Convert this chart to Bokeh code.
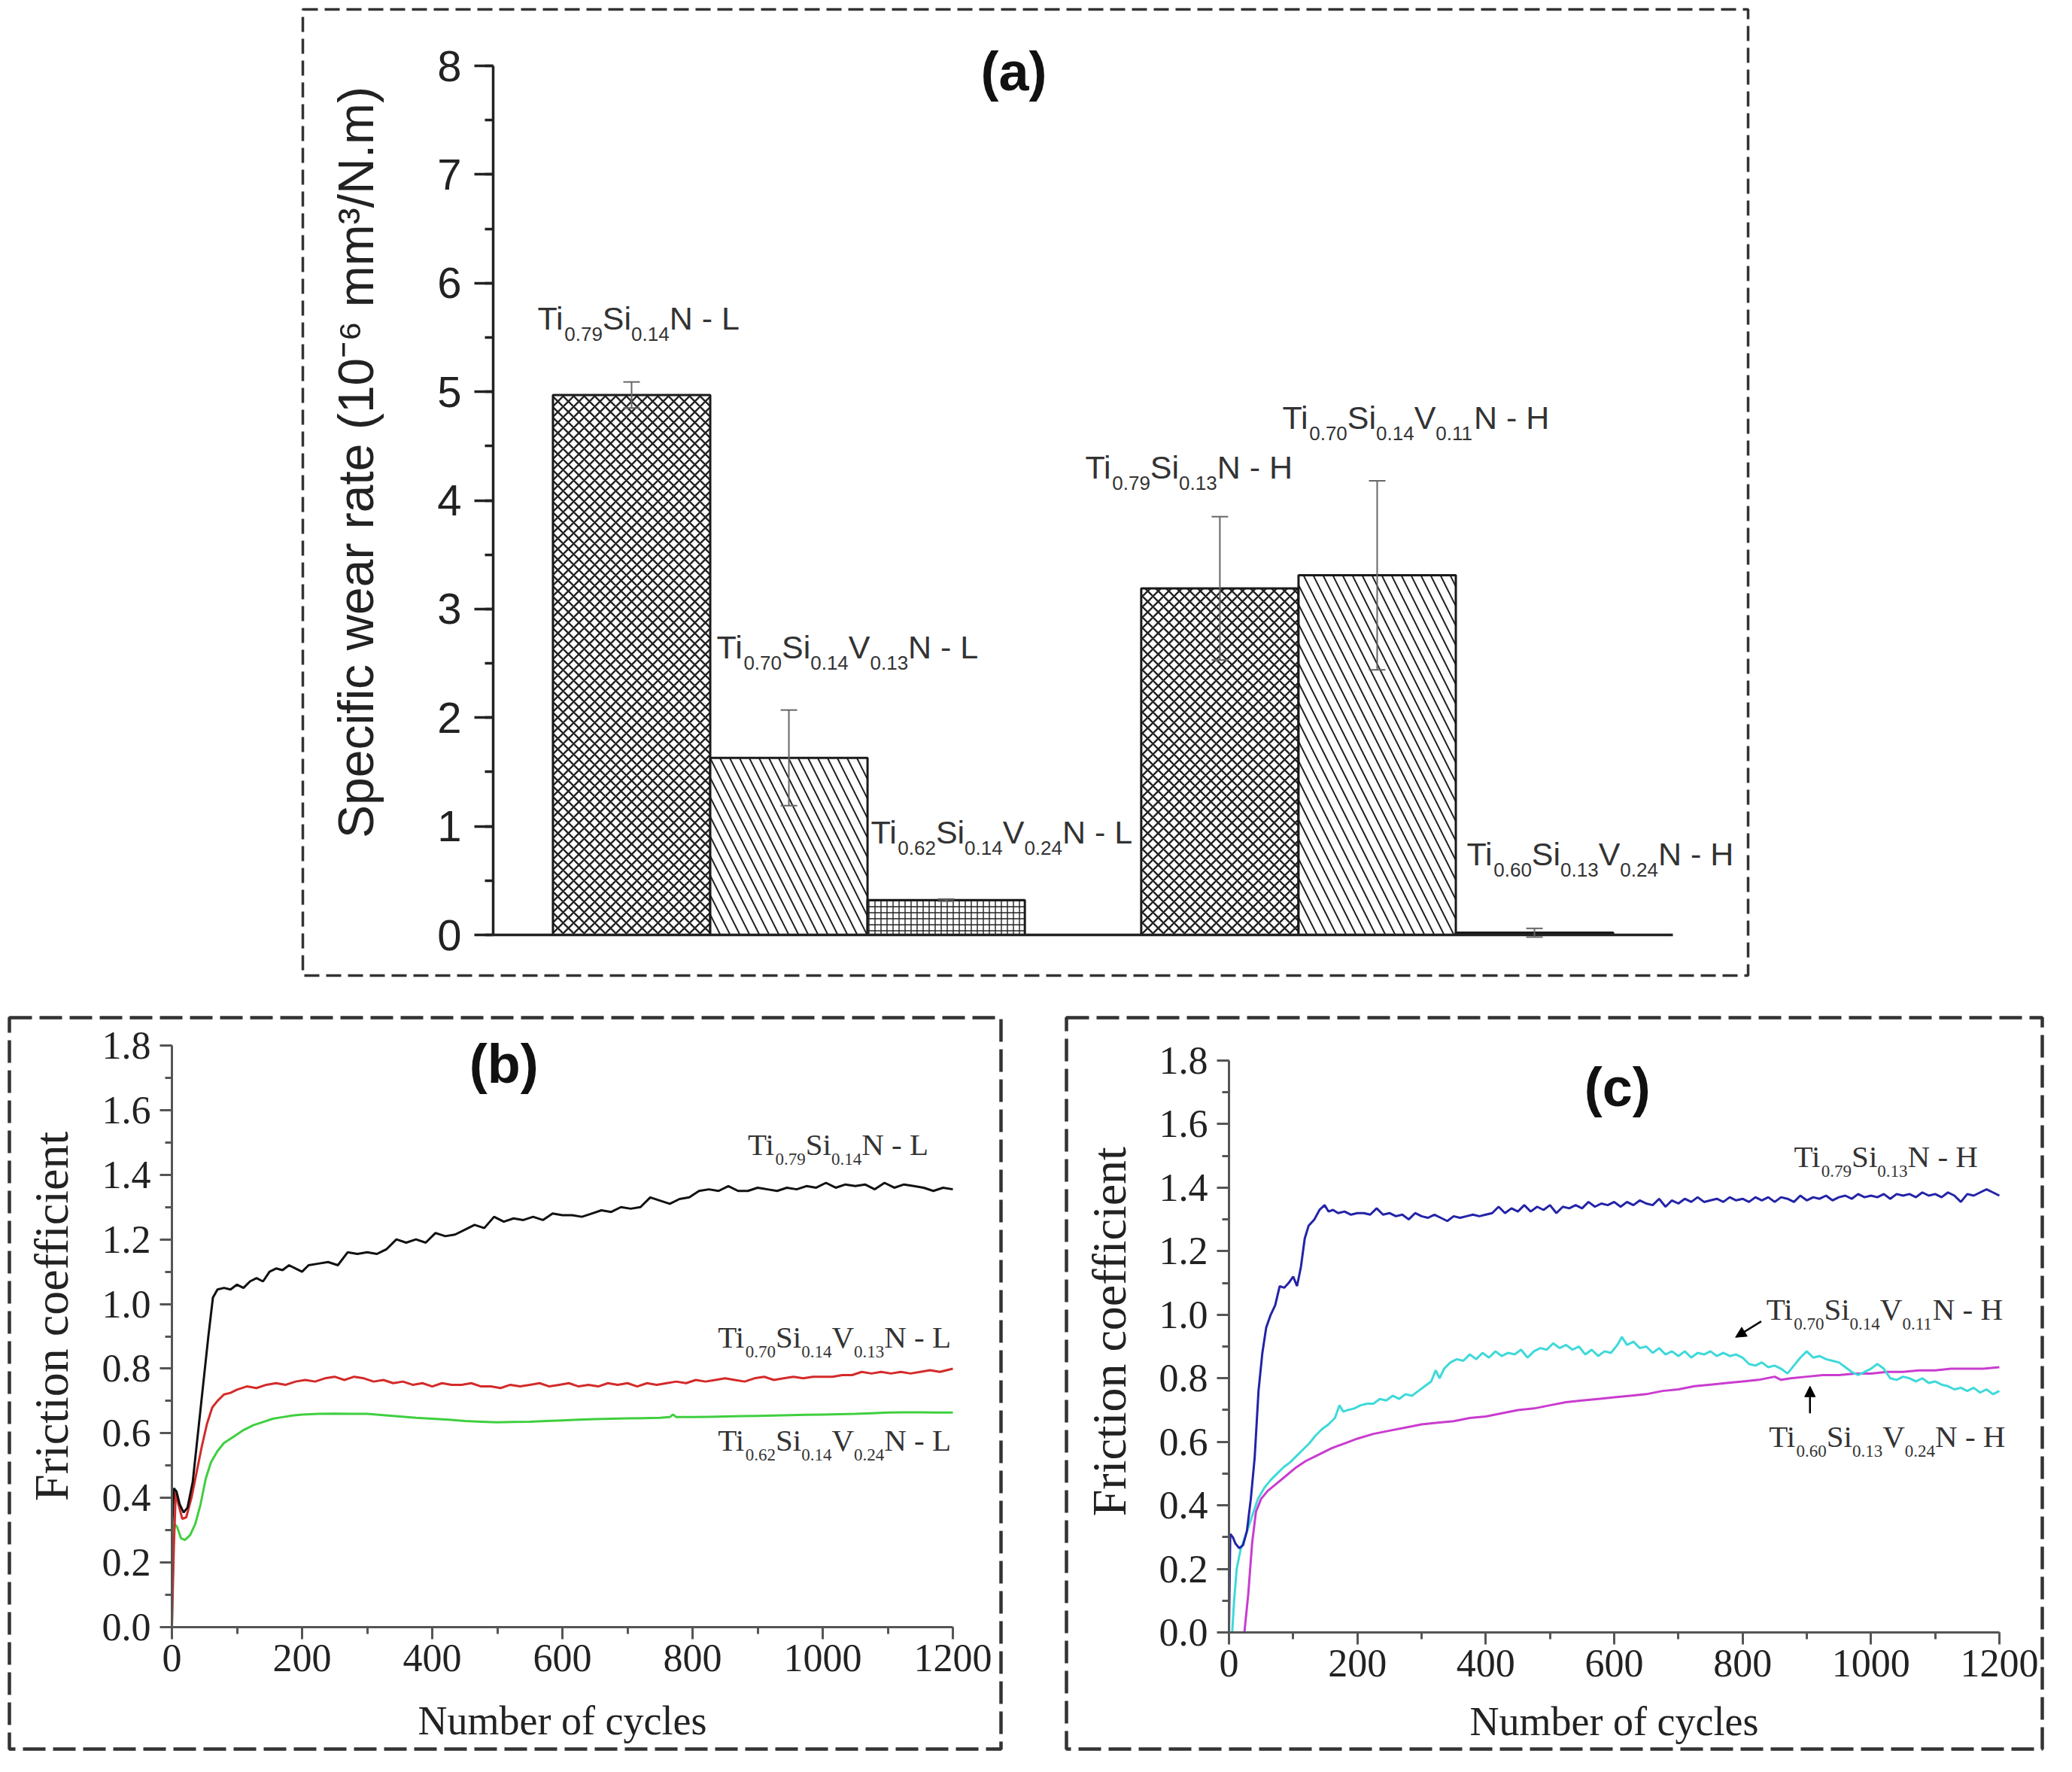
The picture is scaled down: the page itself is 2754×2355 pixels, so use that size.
import math
from bokeh.plotting import figure
from bokeh.models import (Range1d, ColumnDataSource, Whisker, TeeHead, LabelSet, Label, Spacer,
                          SingleIntervalTicker, FixedTicker, PrintfTickFormatter, Arrow, NormalHead)
from bokeh.layouts import column, row
from bokeh.core.properties import value
from bokeh.embed import file_html
from bokeh.resources import INLINE

# ---------------- DATA ----------------
# (a) specific wear rate (10^-6 mm^3/N.m); "|" separates normal text and subscripts
bar_names = ["Ti|0.79|Si|0.14|N - L", "Ti|0.70|Si|0.14|V|0.13|N - L", "Ti|0.62|Si|0.14|V|0.24|N - L",
             "Ti|0.79|Si|0.13|N - H", "Ti|0.70|Si|0.14|V|0.11|N - H", "Ti|0.60|Si|0.13|V|0.24|N - H"]
bar_group = [0, 0, 0, 1, 1, 1]
wear_rate = [4.97, 1.63, 0.32, 3.19, 3.31, 0.02]
wear_err = [0.12, 0.44, 0.01, 0.66, 0.87, 0.04]
bar_hatch = ["x", "\\", "+", "x", "\\", "+"]

# (b) friction coefficient, low load
b_black_x = [0, 3, 7, 12, 18, 24, 32, 40, 48, 56, 63, 70, 80, 90, 100, 110, 120, 130, 140, 150, 160, 170, 180, 190, 200,
             210, 225, 240, 255, 270, 285, 300, 315, 330, 345, 360, 375, 390, 405, 420, 435, 450, 465, 480, 495, 510,
             525, 540, 555, 570, 585, 600, 615, 630, 645, 660, 675, 690, 705, 720, 735, 750, 765, 780, 795, 810, 825,
             840, 855, 870, 885, 900, 915, 930, 945, 960, 975, 990, 1005, 1020, 1035, 1050, 1065, 1080, 1095, 1110,
             1125, 1140, 1155, 1170, 1185, 1200]
b_black_y = [0.30, 0.43, 0.42, 0.38, 0.355, 0.37, 0.45, 0.60, 0.75, 0.90, 1.02, 1.045, 1.05, 1.045, 1.06, 1.05, 1.07,
             1.08, 1.07, 1.10, 1.11, 1.105, 1.12, 1.11, 1.10, 1.12, 1.125, 1.13, 1.12, 1.16, 1.155, 1.16, 1.155, 1.17,
             1.20, 1.19, 1.20, 1.19, 1.22, 1.21, 1.215, 1.23, 1.245, 1.235, 1.27, 1.255, 1.265, 1.26, 1.27, 1.26, 1.28,
             1.275, 1.275, 1.27, 1.28, 1.29, 1.285, 1.30, 1.295, 1.30, 1.33, 1.32, 1.31, 1.325, 1.33, 1.35, 1.355,
             1.35, 1.365, 1.35, 1.35, 1.36, 1.355, 1.35, 1.36, 1.355, 1.365, 1.36, 1.375, 1.36, 1.37, 1.365, 1.37,
             1.355, 1.375, 1.36, 1.37, 1.365, 1.36, 1.35, 1.36, 1.355]
b_red_x = [0, 3, 6, 10, 16, 22, 30, 38, 46, 54, 62, 70, 80, 90, 100, 115, 130, 145, 160, 175, 190, 205, 220, 235, 250,
           265, 280, 295, 310, 325, 340, 355, 370, 385, 400, 415, 430, 445, 460, 475, 490, 505, 520, 535, 550, 565,
           580, 595, 610, 625, 640, 655, 670, 685, 700, 715, 730, 745, 760, 775, 790, 805, 820, 835, 850, 865, 880,
           895, 910, 925, 940, 955, 970, 985, 1000, 1015, 1030, 1045, 1060, 1075, 1090, 1105, 1120, 1135, 1150, 1165,
           1180, 1200]
b_red_y = [0.0, 0.25, 0.42, 0.38, 0.335, 0.34, 0.40, 0.48, 0.56, 0.63, 0.68, 0.70, 0.72, 0.725, 0.735, 0.745, 0.74,
           0.75, 0.755, 0.75, 0.76, 0.765, 0.76, 0.77, 0.775, 0.765, 0.775, 0.77, 0.76, 0.765, 0.755, 0.76, 0.75,
           0.755, 0.745, 0.755, 0.75, 0.75, 0.755, 0.745, 0.745, 0.74, 0.75, 0.745, 0.75, 0.755, 0.745, 0.75, 0.755,
           0.745, 0.75, 0.745, 0.755, 0.75, 0.755, 0.745, 0.755, 0.75, 0.755, 0.76, 0.755, 0.765, 0.76, 0.765, 0.77,
           0.765, 0.76, 0.77, 0.775, 0.765, 0.77, 0.775, 0.77, 0.775, 0.775, 0.775, 0.78, 0.78, 0.79, 0.785, 0.79,
           0.785, 0.79, 0.785, 0.79, 0.795, 0.79, 0.80]
b_green_x = [0, 2, 4, 8, 14, 20, 28, 36, 44, 52, 60, 70, 80, 95, 110, 125, 140, 155, 170, 185, 200, 225, 250, 275, 300,
             325, 350, 375, 400, 425, 450, 475, 500, 525, 550, 575, 600, 625, 650, 675, 700, 725, 750, 765, 770, 775,
             800, 825, 850, 875, 900, 925, 950, 975, 1000, 1025, 1050, 1075, 1100, 1125, 1150, 1175, 1200]
b_green_y = [0.0, 0.25, 0.32, 0.31, 0.275, 0.27, 0.285, 0.32, 0.38, 0.46, 0.51, 0.545, 0.57, 0.59, 0.61, 0.625, 0.635,
             0.645, 0.65, 0.655, 0.658, 0.66, 0.661, 0.66, 0.66, 0.656, 0.652, 0.648, 0.645, 0.642, 0.638, 0.636, 0.634,
             0.635, 0.636, 0.638, 0.64, 0.642, 0.644, 0.645, 0.646, 0.647, 0.648, 0.65, 0.658, 0.65, 0.65, 0.651,
             0.652, 0.653, 0.654, 0.655, 0.656, 0.657, 0.658, 0.659, 0.66, 0.662, 0.664, 0.665, 0.665, 0.664, 0.664]
b_names = ["Ti|0.79|Si|0.14|N - L", "Ti|0.70|Si|0.14|V|0.13|N - L", "Ti|0.62|Si|0.14|V|0.24|N - L"]

# (c) friction coefficient, high load
c_blue_x = [0, 2, 6, 10, 16, 22, 28, 34, 40, 46, 52, 58, 65, 72, 79, 86, 93, 100, 106, 112, 118, 124, 133, 141, 149,
            155, 162, 170, 180, 190, 200, 210, 220, 230, 240, 250, 260, 270, 280, 290, 300, 310, 320, 330, 340, 350,
            360, 370, 380, 390, 400, 410, 420, 430, 440, 450, 460, 470, 480, 490, 500, 510, 520, 530, 540, 550, 560,
            570, 580, 590, 600, 610, 620, 630, 640, 650, 660, 670, 680, 690, 700, 710, 720, 730, 740, 750, 760, 770,
            780, 790, 800, 810, 820, 830, 840, 850, 860, 870, 880, 890, 900, 910, 920, 930, 940, 950, 960, 970, 980,
            990, 1000, 1010, 1020, 1030, 1040, 1050, 1060, 1070, 1080, 1090, 1100, 1110, 1120, 1130, 1140, 1150,
            1160, 1170, 1180, 1190, 1200]
c_blue_y = [0.0, 0.31, 0.30, 0.28, 0.265, 0.275, 0.32, 0.42, 0.55, 0.76, 0.88, 0.96, 1.0, 1.03, 1.09, 1.085, 1.10,
            1.12, 1.09, 1.15, 1.24, 1.28, 1.30, 1.33, 1.345, 1.325, 1.33, 1.32, 1.325, 1.315, 1.32, 1.32, 1.315, 1.335,
            1.315, 1.32, 1.31, 1.315, 1.30, 1.32, 1.31, 1.305, 1.315, 1.305, 1.295, 1.31, 1.305, 1.31, 1.315, 1.31,
            1.315, 1.32, 1.34, 1.32, 1.335, 1.325, 1.345, 1.325, 1.34, 1.33, 1.345, 1.32, 1.34, 1.335, 1.345, 1.335,
            1.355, 1.34, 1.35, 1.345, 1.355, 1.34, 1.355, 1.345, 1.36, 1.35, 1.345, 1.365, 1.34, 1.36, 1.35, 1.365,
            1.355, 1.37, 1.355, 1.36, 1.365, 1.355, 1.37, 1.36, 1.365, 1.355, 1.37, 1.36, 1.37, 1.355, 1.37, 1.365,
            1.355, 1.375, 1.36, 1.37, 1.365, 1.375, 1.36, 1.37, 1.375, 1.365, 1.38, 1.37, 1.375, 1.37, 1.38, 1.365,
            1.38, 1.375, 1.38, 1.37, 1.385, 1.375, 1.38, 1.37, 1.385, 1.375, 1.355, 1.38, 1.375, 1.385, 1.395, 1.385,
            1.375]
c_cyan_x = [0, 5, 8, 12, 18, 25, 35, 45, 55, 65, 75, 85, 95, 105, 115, 125, 135, 145, 155, 165, 172, 178, 185, 195,
            205, 215, 225, 235, 245, 255, 265, 275, 285, 295, 305, 315, 322, 328, 335, 345, 355, 365, 375, 385, 395,
            405, 415, 425, 435, 445, 455, 465, 475, 485, 495, 505, 515, 525, 535, 545, 555, 565, 575, 585, 595, 605,
            612, 620, 630, 640, 650, 660, 670, 680, 690, 700, 710, 720, 730, 740, 750, 760, 770, 780, 790, 800, 810,
            820, 830, 840, 850, 860, 870, 880, 890, 900, 910, 920, 930, 940, 950, 960, 970, 980, 990, 1000, 1010,
            1020, 1030, 1040, 1050, 1060, 1070, 1080, 1090, 1100, 1110, 1120, 1130, 1140, 1150, 1160, 1170, 1180,
            1190, 1200]
c_cyan_y = [0.0, 0.0, 0.10, 0.20, 0.26, 0.30, 0.36, 0.42, 0.455, 0.48, 0.50, 0.52, 0.535, 0.555, 0.575, 0.595, 0.62,
            0.64, 0.655, 0.675, 0.715, 0.695, 0.70, 0.705, 0.715, 0.72, 0.72, 0.735, 0.73, 0.745, 0.735, 0.75, 0.745,
            0.76, 0.775, 0.79, 0.825, 0.80, 0.83, 0.85, 0.86, 0.855, 0.875, 0.86, 0.88, 0.865, 0.885, 0.87, 0.88,
            0.875, 0.89, 0.865, 0.885, 0.895, 0.89, 0.91, 0.895, 0.905, 0.89, 0.90, 0.875, 0.89, 0.87, 0.885, 0.88,
            0.905, 0.93, 0.905, 0.915, 0.895, 0.90, 0.88, 0.895, 0.875, 0.885, 0.87, 0.885, 0.865, 0.88, 0.875, 0.885,
            0.87, 0.88, 0.87, 0.875, 0.865, 0.845, 0.84, 0.85, 0.835, 0.84, 0.83, 0.815, 0.84, 0.865, 0.885, 0.865,
            0.87, 0.86, 0.855, 0.85, 0.835, 0.82, 0.81, 0.82, 0.83, 0.845, 0.83, 0.80, 0.795, 0.805, 0.80, 0.79, 0.80,
            0.785, 0.79, 0.78, 0.775, 0.765, 0.77, 0.76, 0.77, 0.755, 0.765, 0.75, 0.76]
c_mag_x = [24, 30, 36, 42, 50, 60, 75, 90, 105, 120, 140, 160, 180, 200, 225, 250, 275, 300, 325, 350, 375, 400, 425,
           450, 475, 500, 525, 550, 575, 600, 625, 650, 675, 700, 725, 750, 775, 800, 825, 850, 860, 875, 900, 925,
           950, 975, 1000, 1025, 1050, 1075, 1100, 1125, 1150, 1175, 1200]
c_mag_y = [0.0, 0.12, 0.28, 0.38, 0.42, 0.445, 0.47, 0.495, 0.52, 0.54, 0.56, 0.58, 0.595, 0.61, 0.625, 0.635, 0.645,
           0.655, 0.66, 0.665, 0.675, 0.68, 0.69, 0.70, 0.705, 0.715, 0.725, 0.73, 0.735, 0.74, 0.745, 0.75, 0.76,
           0.765, 0.775, 0.78, 0.785, 0.79, 0.795, 0.805, 0.795, 0.80, 0.805, 0.81, 0.81, 0.815, 0.815, 0.82, 0.82,
           0.825, 0.825, 0.83, 0.83, 0.83, 0.835]
c_names = ["Ti|0.79|Si|0.13|N - H", "Ti|0.70|Si|0.14|V|0.11|N - H", "Ti|0.60|Si|0.13|V|0.24|N - H"]

# ---------------- HELPERS ----------------
SANS_W = {'T': 0.611, 'i': 0.222, 'S': 0.667, 'N': 0.722, 'V': 0.667, ' ': 0.278, '-': 0.333,
          'L': 0.556, 'H': 0.722, '.': 0.278}
SERIF_W = {'T': 0.611, 'i': 0.278, 'S': 0.556, 'N': 0.722, 'V': 0.722, ' ': 0.25, '-': 0.333,
           'L': 0.611, 'H': 0.722, '.': 0.25}
M = 4  # canvas margin around the dashed frame


def twidth(s, table, size, digit):
    return sum(table.get(c, digit) for c in s) * size


def add_formulas(p, specs, positions, font, table, digit, size, sub_size, drop, color):
    main = dict(x=[], y=[], text=[], xo=[], yo=[])
    sub = dict(x=[], y=[], text=[], xo=[], yo=[])
    for spec, (x, y) in zip(specs, positions):
        off = 0.0
        for k, part in enumerate(spec.split("|")):
            is_sub = k % 2 == 1
            d = sub if is_sub else main
            sz = sub_size if is_sub else size
            d["x"].append(x); d["y"].append(y); d["text"].append(part)
            d["xo"].append(off); d["yo"].append(-drop if is_sub else 0)
            off += twidth(part, table, sz, digit)
    for d, sz in ((main, size), (sub, sub_size)):
        p.add_layout(LabelSet(source=ColumnDataSource(d), x="x", y="y", text="text",
                              x_offset="xo", y_offset="yo", text_font=value(font),
                              text_font_size=value(f"{sz}px"), text_color=color,
                              text_align="left", text_baseline="alphabetic"))


def panel_fig(box, origin, ppu, line_w, dash):
    """box = dashed panel frame (l, t, r, b) in page px; origin = page px of data (0, 0); ppu = px per unit."""
    l, t, r, b = box
    ox, oy = origin
    px, py = ppu
    p = figure(width=r - l + 2 * M, height=b - t + 2 * M,
               x_range=Range1d((l - ox) / px, (r - ox) / px),
               y_range=Range1d((oy - b) / py, (oy - t) / py),
               output_backend="svg", toolbar_location=None,
               min_border_left=M, min_border_right=M, min_border_top=M, min_border_bottom=M)
    p.title.visible = False
    p.xgrid.visible = False
    p.ygrid.visible = False
    p.background_fill_color = "white"
    p.border_fill_color = "white"
    p.outline_line_color = "#333333"
    p.outline_line_width = line_w
    p.outline_line_dash = dash
    return p


def style_axis(ax, color, width, tick_out, minor_out, font, size, standoff):
    ax.fixed_location = 0
    ax.axis_line_width = width
    ax.axis_line_color = color
    ax.major_tick_line_width = width
    ax.minor_tick_line_width = width
    ax.major_tick_line_color = color
    ax.minor_tick_line_color = color
    ax.major_tick_out = tick_out
    ax.major_tick_in = 0
    ax.minor_tick_out = minor_out
    ax.minor_tick_in = 0
    ax.major_label_text_font = font
    ax.major_label_text_font_size = size
    ax.major_label_text_color = "#222222"
    ax.major_label_standoff = standoff


# ---------------- PANEL (a) ----------------
pad, gap = 0.38, 0.74
bar_x = [pad + 0.5 + i + gap * g for i, g in enumerate(bar_group)]
x_axis_end = pad + len(bar_x) + gap + pad

pa = panel_fig((410, 20, 2331, 1304), (663, 1250), (209.07, 144.375), 3.5, "20 9")
src_a = ColumnDataSource(dict(x=bar_x, top=wear_rate, hatch=bar_hatch,
                              upper=[v + e for v, e in zip(wear_rate, wear_err)],
                              lower=[v - e for v, e in zip(wear_rate, wear_err)],
                              hscale=[14 if h == "x" else (26 if h == "\\" else 8) for h in bar_hatch],
                              hweight=[2.4 if h == "x" else (2.0 if h == "\\" else 1.4) for h in bar_hatch]))
pa.vbar(x="x", top="top", width=1.0, bottom=0, source=src_a, fill_color="white",
        line_color="#1a1a1a", line_width=3, hatch_pattern="hatch", hatch_scale="hscale",
        hatch_weight="hweight", hatch_color="#222222")
pa.add_layout(Whisker(source=src_a, base="x", upper="upper", lower="lower", line_color="#666666",
                      line_width=2, level="annotation",
                      upper_head=TeeHead(size=22, line_color="#666666", line_width=2),
                      lower_head=TeeHead(size=22, line_color="#666666", line_width=2)))

ya = pa.yaxis[0]
style_axis(ya, "#222222", 3.5, 25, 11, "Liberation Sans", "58px", 17)
ya.ticker = SingleIntervalTicker(interval=1, num_minor_ticks=2)
ya.bounds = (0, 8)
xa = pa.xaxis[0]
style_axis(xa, "#222222", 3.5, 0, 0, "Liberation Sans", "58px", 0)
xa.ticker = FixedTicker(ticks=[])
xa.bounds = (0, x_axis_end)

pa.add_layout(Label(x=-0.875, y=4.35, text="Specific wear rate (10\u207b\u2076 mm\u00b3/N.m)",
                    angle=math.pi / 2, text_font="Liberation Sans", text_font_size="66px",
                    text_color="#222222", text_align="center", text_baseline="alphabetic"))
pa.add_layout(Label(x=3.31, y=7.95, text="(a)", text_font="Liberation Sans", text_font_style="bold",
                    text_font_size="72px", text_color="#111111", text_align="center",
                    text_baseline="middle"))
a_label_pos = [(0.282, 5.569), (1.421, 2.542), (2.401, 0.845), (3.764, 4.204), (5.017, 4.655), (6.189, 0.644)]
add_formulas(pa, bar_names, a_label_pos, "Liberation Sans", SANS_W, 0.556, 43, 26, 15, "#333333")


# ---------------- PANELS (b), (c) ----------------
def curve_panel(box, origin, ppu, ylab_x, ylab_y, xlab_y, title, title_xy):
    p = panel_fig(box, origin, ppu, 4.5, "30 10")
    xax, yax = p.xaxis[0], p.yaxis[0]
    style_axis(xax, "#555555", 3, 16, 9, "Liberation Serif", "52px", 7)
    style_axis(yax, "#555555", 3, 16, 9, "Liberation Serif", "52px", 12)
    xax.ticker = SingleIntervalTicker(interval=200, num_minor_ticks=2)
    yax.ticker = SingleIntervalTicker(interval=0.2, num_minor_ticks=2)
    yax.formatter = PrintfTickFormatter(format="%.1f")
    xax.bounds = (0, 1200)
    yax.bounds = (0, 1.8)
    p.add_layout(Label(x=ylab_x, y=ylab_y, text="Friction coefficient", angle=math.pi / 2,
                       text_font="Liberation Serif", text_font_size="64px", text_color="#222222",
                       text_align="center", text_baseline="alphabetic"))
    p.add_layout(Label(x=600, y=xlab_y, text="Number of cycles", text_font="Liberation Serif",
                       text_font_size="54px", text_color="#222222", text_align="center",
                       text_baseline="alphabetic"))
    p.add_layout(Label(x=title_xy[0], y=title_xy[1], text=title, text_font="Liberation Sans",
                       text_font_style="bold", text_font_size="72px", text_color="#111111",
                       text_align="center", text_baseline="middle"))
    return p


pb = curve_panel((20, 1360, 1338, 2332), (236, 2170), (0.865, 429.44), -185, 0.962, -0.29, "(b)", (510, 1.744))
pb.line(b_green_x, b_green_y, line_color="#3fcf3f", line_width=3)
pb.line(b_red_x, b_red_y, line_color="#d42a2a", line_width=3)
pb.line(b_black_x, b_black_y, line_color="#111111", line_width=3)
add_formulas(pb, b_names, [(885, 1.462), (839, 0.866), (839, 0.545)], "Liberation Serif", SERIF_W, 0.5,
             41, 23, 13, "#333333")

pc = curve_panel((1425, 1360, 2722, 2332), (1641, 2177), (0.8533, 422.2), -186, 0.947, -0.28, "(c)",
                 (605, 1.715))
pc.line(c_mag_x, c_mag_y, line_color="#c93ccf", line_width=3)
pc.line(c_cyan_x, c_cyan_y, line_color="#3fd9d9", line_width=3)
pc.line(c_blue_x, c_blue_y, line_color="#2323a8", line_width=3)
add_formulas(pc, c_names, [(880, 1.464), (837, 0.985), (841, 0.583)], "Liberation Serif", SERIF_W, 0.5,
             41, 23, 13, "#333333")
pc.add_layout(Arrow(x_start=829, y_start=0.979, x_end=789, y_end=0.929, line_width=2.5, line_color="black",
                    end=NormalHead(size=14, fill_color="black", line_color="black")))
pc.add_layout(Arrow(x_start=905, y_start=0.69, x_end=905, y_end=0.775, line_width=2.5, line_color="black",
                    end=NormalHead(size=14, fill_color="black", line_color="black")))

# page placement: (a) frame at x 410..2331, y 20..1304; (b) 20..1338; (c) 1425..2722, both y 1360..2332
layout = column(
    Spacer(width=10, height=8),
    row(Spacer(width=398, height=10), pa),
    Spacer(width=10, height=48),
    row(Spacer(width=8, height=10), pb, Spacer(width=79, height=10), pc),
)
open("out.html", "w").write(file_html(layout, INLINE))
